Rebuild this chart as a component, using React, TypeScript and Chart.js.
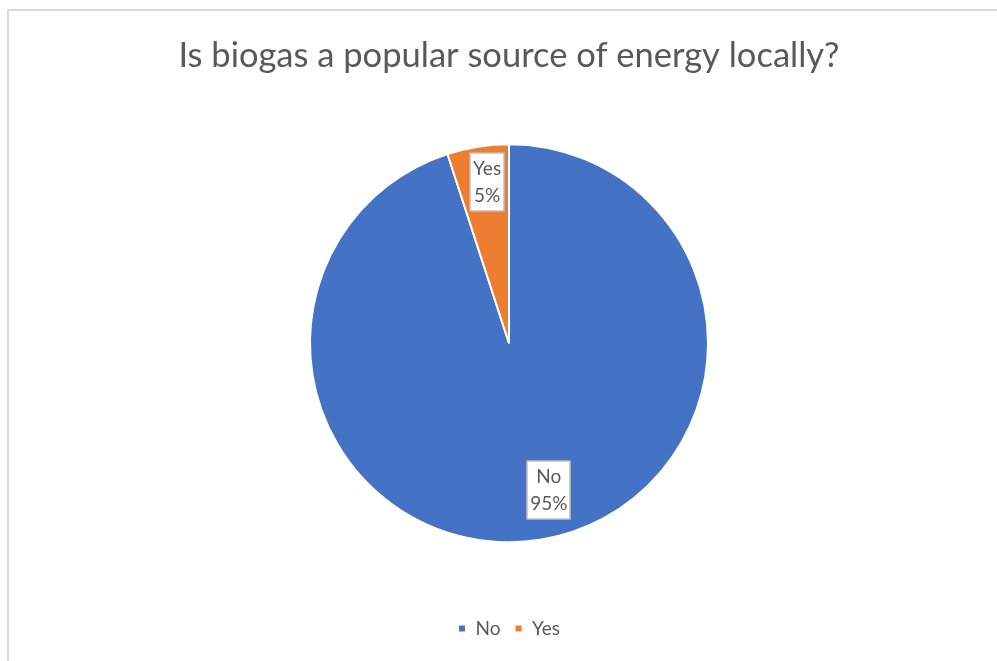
import React, { useEffect, useRef } from "react";
import { Chart, registerables } from "chart.js";

Chart.register(...registerables);

const CATEGORIES = ["No", "Yes"];
const VALUES = [95, 5];
const PERCENT_LABELS = ["95%", "5%"];
const COLORS = ["#4472C4", "#ED7D31"];
const TITLE = "Is biogas a popular source of energy locally?";

const FONT = "Lato, 'Open Sans', sans-serif";

const labelPlugin = {
  id: "boxLabels",
  afterDatasetsDraw(chart: any) {
    const ctx = chart.ctx as CanvasRenderingContext2D;
    const meta = chart.getDatasetMeta(0);
    // label placement relative to pie radius (Excel "best fit" look)
    const place = [
      { fx: 0.2, fy: 0.74 },
      { fx: -0.11, fy: -0.81 },
    ];
    ctx.save();
    ctx.font = `19px ${FONT}`;
    ctx.textAlign = "center";
    ctx.textBaseline = "middle";
    meta.data.forEach((arc: any, i: number) => {
      const { x, y, outerRadius } = arc.getProps(["x", "y", "outerRadius"], true);
      const cx = x + place[i].fx * outerRadius;
      const cy = y + place[i].fy * outerRadius;
      const lines = [CATEGORIES[i], PERCENT_LABELS[i]];
      const lh = 27;
      const w = Math.max(...lines.map((l) => ctx.measureText(l).width)) + 6;
      const h = lines.length * lh + 4;
      ctx.fillStyle = "#ffffff";
      ctx.fillRect(Math.round(cx - w / 2), Math.round(cy - h / 2), Math.round(w), h);
      ctx.strokeStyle = "#BFBFBF";
      ctx.lineWidth = 1.5;
      ctx.strokeRect(Math.round(cx - w / 2), Math.round(cy - h / 2), Math.round(w), h);
      ctx.fillStyle = "#595959";
      lines.forEach((l, k) => {
        ctx.fillText(l, cx, cy - h / 2 + 2 + lh / 2 + k * lh);
      });
    });
    ctx.restore();
  },
};

export default function App() {
  const ref = useRef<HTMLCanvasElement | null>(null);
  useEffect(() => {
    document.body.style.margin = "0";
    if (!ref.current) return;
    const chart = new Chart(ref.current, {
      type: "pie",
      data: {
        labels: CATEGORIES,
        datasets: [
          {
            data: VALUES,
            backgroundColor: COLORS,
            borderColor: "#ffffff",
            borderWidth: 2,
          },
        ],
      },
      options: {
        animation: false,
        responsive: false,
        radius: 199,
        layout: { padding: { left: 12, right: 0, top: 0, bottom: 13 } },
        plugins: {
          tooltip: { enabled: false },
          title: {
            display: true,
            text: TITLE,
            color: "#595959",
            font: { family: FONT, size: 34.5, weight: "normal" as any },
            padding: { top: 24, bottom: 5 },
          },
          legend: {
            position: "bottom",
            labels: {
              color: "#595959",
              font: { family: FONT, size: 19 },
              usePointStyle: true,
              pointStyle: "rect",
              boxWidth: 8,
              boxHeight: 8,
              padding: 14,
            },
          },
        },
      },
      plugins: [labelPlugin],
    });
    return () => chart.destroy();
  }, []);
  return (
    <div
      style={{
        position: "absolute",
        left: 7,
        top: 9,
        width: 990,
        height: 652,
        borderLeft: "2px solid #D9D9D9",
        borderTop: "2px solid #D9D9D9",
        background: "#fff",
      }}
    >
      <canvas ref={ref} width={988} height={650} style={{ display: "block" }} />
    </div>
  );
}
